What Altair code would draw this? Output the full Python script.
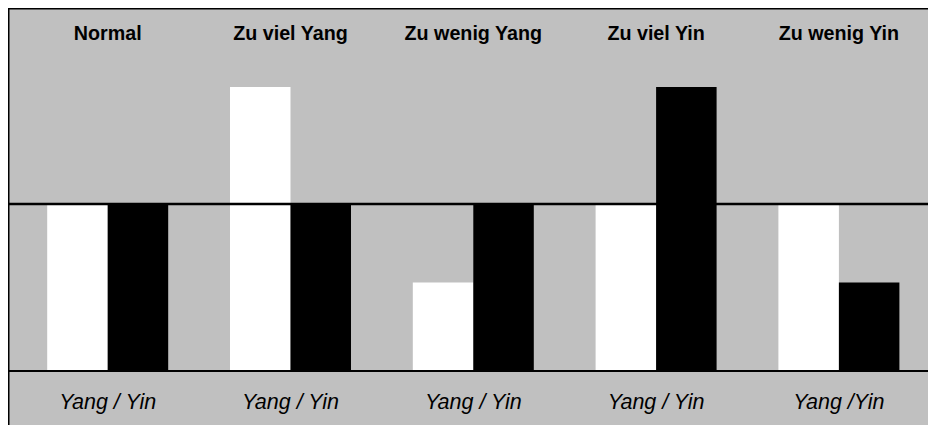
import altair as alt
import pandas as pd

groups = ["Normal", "Zu viel Yang", "Zu wenig Yang", "Zu viel Yin", "Zu wenig Yin"]
yang = [100, 170, 53, 100, 100]
yin = [100, 100, 100, 170, 53]
bottom_labels = ["Yang / Yin", "Yang / Yin", "Yang / Yin", "Yang / Yin", "Yang /Yin"]
parts = ["Yang", "Yin"]
levels = [0, 100]

W, H = 920, 417
FONT = "Liberation Sans"

bars_df = pd.DataFrame(
    [{"group": g, "part": "Yang", "value": v} for g, v in zip(groups, yang)]
    + [{"group": g, "part": "Yin", "value": v} for g, v in zip(groups, yin)]
)
lab_df = pd.DataFrame({"group": groups, "label": bottom_labels})

xscale = alt.Scale(domain=groups, range=[39.2, 891.4], paddingInner=0.3381, paddingOuter=0)
yscale = alt.Scale(domain=[-32.34, 217.37], nice=False, zero=False)

bars = alt.Chart(bars_df).mark_bar().encode(
    x=alt.X("group:N", scale=xscale, axis=None, sort=groups),
    xOffset=alt.XOffset("part:N", sort=parts, scale=alt.Scale(paddingInner=0, paddingOuter=0)),
    y=alt.Y("value:Q", scale=yscale, axis=None),
    y2=alt.datum(0),
    color=alt.Color("part:N", scale=alt.Scale(domain=parts, range=["#FFFFFF", "#000000"]), legend=None),
)

top_line = alt.Chart(pd.DataFrame({"v": [levels[1]]})).mark_rule(color="black", strokeWidth=2.4).encode(
    y=alt.Y("v:Q", scale=yscale, axis=None)
)
base_line = alt.Chart(pd.DataFrame({"v": [levels[0]]})).mark_rule(color="black", strokeWidth=2).encode(
    y=alt.Y("v:Q", scale=yscale, axis=None)
)

titles = alt.Chart(lab_df).mark_text(
    font=FONT, fontSize=19.7, fontWeight="bold", color="black", align="center", baseline="alphabetic"
).encode(
    x=alt.X("group:N", scale=xscale, axis=None, sort=groups),
    y=alt.value(32),
    text="group:N",
)

labels = alt.Chart(lab_df).mark_text(
    font=FONT, fontSize=21.5, fontStyle="italic", color="black", align="center", baseline="alphabetic"
).encode(
    x=alt.X("group:N", scale=xscale, axis=None, sort=groups),
    y=alt.value(401),
    text="label:N",
)

frame_left = alt.Chart(pd.DataFrame({"k": [0]})).mark_rule(color="black", strokeWidth=3).encode(
    x=alt.value(0), y=alt.value(0), y2=alt.value(H)
)
frame_top = alt.Chart(pd.DataFrame({"k": [0]})).mark_rule(color="black", strokeWidth=3).encode(
    x=alt.value(0), x2=alt.value(W), y=alt.value(0)
)

chart = alt.layer(bars, top_line, base_line, titles, labels, frame_left, frame_top).properties(
    width=W, height=H, padding=0, autosize="none", background="#C0C0C0"
).configure_view(stroke=None, fill="#C0C0C0")

chart.save("out.html", embed_options={"renderer": "svg", "actions": False})
